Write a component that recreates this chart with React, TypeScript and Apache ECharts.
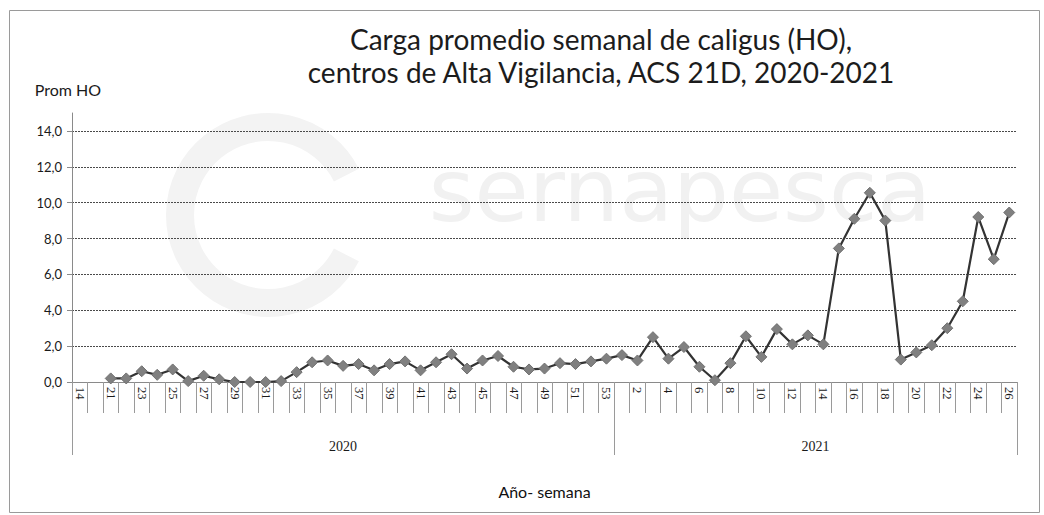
import React, { useEffect, useRef } from "react";
import * as echarts from "echarts";

const weeks2020 = ["14", "", "21", "22", "23", "24", "25", "26", "27", "28", "29", "30", "31", "32", "33", "34", "35", "36", "37", "38", "39", "40", "41", "42", "43", "44", "45", "46", "47", "48", "49", "50", "51", "52", "53"];
const weeks2021 = ["1", "2", "3", "4", "5", "6", "7", "8", "9", "10", "11", "12", "13", "14", "15", "16", "17", "18", "19", "20", "21", "22", "23", "24", "25", "26"];
const values2020: (number | null)[] = [null, null, 0.2, 0.2, 0.6, 0.4, 0.7, 0.05, 0.35, 0.15, 0.0, 0.0, 0.0, 0.05, 0.55, 1.1, 1.2, 0.9, 1.0, 0.65, 1.0, 1.15, 0.65, 1.1, 1.55, 0.75, 1.2, 1.45, 0.85, 0.7, 0.75, 1.05, 1.0, 1.15, 1.3];
const values2021: number[] = [1.5, 1.2, 2.5, 1.3, 1.95, 0.85, 0.1, 1.05, 2.55, 1.4, 2.95, 2.1, 2.6, 2.1, 7.45, 9.1, 10.55, 9.0, 1.25, 1.65, 2.05, 3.0, 4.5, 9.2, 6.85, 9.45];
const years = ["2020", "2021"];
const titleText = "Carga promedio semanal de caligus (HO),\ncentros de Alta Vigilancia, ACS 21D, 2020-2021";
const yName = "Prom HO";
const xName = "Año- semana";

const FONT = "Lato, 'Open Sans', sans-serif";

export default function App() {
  const ref = useRef<HTMLDivElement>(null);
  useEffect(() => {
    if (!ref.current) return;
    const chart = echarts.init(ref.current, undefined, { renderer: "svg" });
    const categories = [...weeks2020, ...weeks2021];
    const values = [...values2020, ...values2021];
    const n1 = weeks2020.length;
    const n = categories.length;
    chart.setOption({
      animation: false,
      backgroundColor: "#ffffff",
      title: {
        text: titleText,
        left: 596,
        top: 17,
        textAlign: "center",
        textStyle: { fontFamily: FONT, fontSize: 28, fontWeight: "normal", color: "#1c1c1c", lineHeight: 33 },
      },
      graphic: [
        { type: "rect", z: -20, silent: true, shape: { x: 9.5, y: 10.5, width: 1030, height: 502 }, style: { fill: "none", stroke: "#9a9a9a", lineWidth: 1 } },
        { type: "arc", z: -10, silent: true, shape: { cx: 268, cy: 215, r: 88, startAngle: Math.PI * 0.15, endAngle: Math.PI * 1.85 }, style: { stroke: "#f3f3f3", lineWidth: 28, fill: "none" } },
        { type: "text", z: -10, silent: true, style: { text: "sernapesca", x: 680, y: 190, align: "center", verticalAlign: "middle", fontFamily: "'DejaVu Sans', sans-serif", fontSize: 88, fill: "#f1f1f1" } },
      ],
      grid: { left: 72, right: 27, top: 113, bottom: 133 },
      xAxis: [
        {
          type: "category",
          data: categories,
          boundaryGap: true,
          name: xName,
          nameLocation: "middle",
          nameGap: 101,
          nameTextStyle: { fontFamily: FONT, fontSize: 16, color: "#111", fontWeight: "normal" },
          axisLine: { show: true, lineStyle: { color: "#8a8a8a", width: 1 } },
          axisTick: { show: true, interval: 0, length: 31, lineStyle: { color: "#9a9a9a" } },
          axisLabel: { interval: 1, rotate: -90, margin: 5, fontFamily: "'Liberation Serif', serif", fontSize: 12.5, color: "#1a1a1a" },
          splitLine: { show: false },
        },
        {
          type: "value",
          min: 0,
          max: n,
          position: "bottom",
          axisLine: { show: false },
          axisTick: { show: true, customValues: [0, n1, n], length: 73, lineStyle: { color: "#9a9a9a" } },
          axisLabel: {
            show: true,
            customValues: [n1 / 2, n1 + (n - n1) / 2],
            margin: 57,
            fontFamily: "'Liberation Serif', serif",
            fontSize: 14,
            color: "#1a1a1a",
            formatter: (v: number) => (v < n1 ? years[0] : years[1]),
          },
          splitLine: { show: false },
        },
      ],
      yAxis: {
        type: "value",
        min: 0,
        max: 15,
        interval: 2,
        name: yName,
        nameLocation: "end",
        nameGap: 16,
        nameTextStyle: { fontFamily: FONT, fontSize: 16, color: "#1a1a1a", align: "center", padding: [0, 8, 0, 0] },
        axisLine: { show: true, lineStyle: { color: "#8a8a8a", width: 1 } },
        axisTick: { show: true, length: 5, lineStyle: { color: "#8a8a8a" } },
        axisLabel: {
          margin: 10,
          showMaxLabel: false,
          fontFamily: FONT,
          fontSize: 13,
          color: "#1a1a1a",
          formatter: (v: number) => v.toFixed(1).replace(".", ","),
        },
        splitLine: { show: true, showMaxLine: false, lineStyle: { color: "#4a4a4a", type: [2, 1], width: 1 } },
      },
      series: [
        {
          type: "line",
          data: values,
          xAxisIndex: 0,
          yAxisIndex: 0,
          symbol: "diamond",
          symbolSize: 11,
          showAllSymbol: true,
          connectNulls: false,
          lineStyle: { color: "#333333", width: 2.2 },
          itemStyle: { color: "#808080", borderColor: "#707070", borderWidth: 1 },
        },
      ],
    });
    return () => chart.dispose();
  }, []);
  return <div ref={ref} style={{ position: "absolute", left: 0, top: 0, width: 1044, height: 515 }} />;
}
